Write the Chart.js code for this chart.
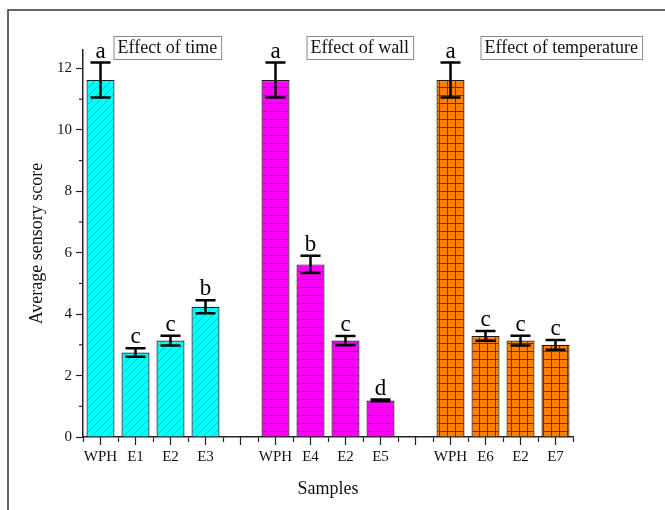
<!DOCTYPE html>
<html>
<head>
<meta charset="utf-8">
<script src="https://cdn.jsdelivr.net/npm/chart.js@4.4.0/dist/chart.umd.min.js"></script>
<style>
  html, body { margin: 0; padding: 0; background: #fff; }
  #wrap { width: 665px; height: 510px; }
</style>
</head>
<body>
<div id="wrap"><canvas id="grafico" width="665" height="510"></canvas></div>
<script>
// Datos
const etiquetas = ['WPH', 'E1', 'E2', 'E3', '', 'WPH', 'E4', 'E2', 'E5', '', 'WPH', 'E6', 'E2', 'E7'];
const medias = [11.62, 2.75, 3.14, 4.24, null, 11.62, 5.62, 3.14, 1.19, null, 11.62, 3.29, 3.14, 3.00];
const errores = [0.57, 0.14, 0.16, 0.21, null, 0.57, 0.28, 0.15, 0.03, null, 0.57, 0.16, 0.16, 0.16];
const letras = ['a', 'c', 'c', 'b', '', 'a', 'b', 'c', 'd', '', 'a', 'c', 'c', 'c'];
const grupos = ['Effect of time', 'Effect of wall', 'Effect of temperature'];
const inicioGrupo = [0, 5, 10];   // índice de la primera barra de cada grupo
const ticksY = [0, 2, 4, 6, 8, 10, 12];

const FUENTE = '"Liberation Serif", "DejaVu Serif", serif';

// Función para crear los rellenos con trama
function crearTrama(tipo, fondo, linea) {
    const c = document.createElement('canvas');
    c.width = 8; c.height = 8;
    const g = c.getContext('2d');
    g.fillStyle = fondo;
    g.fillRect(0, 0, 8, 8);
    g.strokeStyle = linea;
    g.lineWidth = 1;
    g.beginPath();
    if (tipo === 'diagonal') {
        g.lineWidth = 0.8;
        g.moveTo(-1, 9); g.lineTo(9, -1);
        g.moveTo(-1, 1); g.lineTo(1, -1);
        g.moveTo(7, 9); g.lineTo(9, 7);
    } else if (tipo === 'horizontal') {
        g.moveTo(0, 7.5); g.lineTo(8, 7.5);
    } else {
        g.moveTo(0, 7.5); g.lineTo(8, 7.5);
        g.moveTo(7.5, 0); g.lineTo(7.5, 8);
    }
    g.stroke();
    return g.createPattern(c, 'repeat');
}

const tramaCian = crearTrama('diagonal', '#00ffff', '#4a9aa6');
const tramaMagenta = crearTrama('horizontal', '#ff00ff', '#80307f');
const tramaNaranja = crearTrama('grid', '#ff8000', '#6a3414');
const rellenos = etiquetas.map((_, i) => i < 5 ? tramaCian : (i < 10 ? tramaMagenta : tramaNaranja));

// Plugin: marco, barras de error, letras, cajas y marcas menores
const extras = {
    id: 'extras',
    beforeDraw(chart) {
        const ctx = chart.ctx;
        ctx.save();
        ctx.strokeStyle = '#333';
        ctx.lineWidth = 1.5;
        ctx.beginPath();
        ctx.moveTo(8, 510);
        ctx.lineTo(8, 10);
        ctx.lineTo(665, 10);
        ctx.stroke();
        ctx.restore();
    },
    afterDatasetsDraw(chart) {
        const ctx = chart.ctx;
        const x = chart.scales.x, y = chart.scales.y;
        const meta = chart.getDatasetMeta(0);
        ctx.save();
        ctx.strokeStyle = '#000';
        ctx.lineWidth = 2.5;
        ctx.fillStyle = '#000';
        ctx.font = '23px ' + FUENTE;
        ctx.textAlign = 'center';
        ctx.textBaseline = 'alphabetic';
        medias.forEach((v, i) => {
            if (v === null) return;
            const cx = meta.data[i].x;
            const arriba = y.getPixelForValue(v + errores[i]);
            const abajo = y.getPixelForValue(v - errores[i]);
            ctx.beginPath();
            ctx.moveTo(cx, arriba); ctx.lineTo(cx, abajo);
            ctx.moveTo(cx - 10, arriba); ctx.lineTo(cx + 10, arriba);
            ctx.moveTo(cx - 10, abajo); ctx.lineTo(cx + 10, abajo);
            ctx.stroke();
            ctx.fillText(letras[i], cx, arriba - 5);
        });

        // Marcas largas en el centro de cada categoría
        ctx.lineWidth = 1.2;
        ctx.strokeStyle = '#222';
        etiquetas.forEach((_, i) => {
            const cx = x.getPixelForValue(i);
            ctx.beginPath();
            ctx.moveTo(cx, y.bottom);
            ctx.lineTo(cx, y.bottom + 8);
            ctx.stroke();
        });
        // Marcas menores del eje y
        for (let v = 1; v < 13; v += 2) {
            const py = y.getPixelForValue(v);
            ctx.beginPath();
            ctx.moveTo(x.left - 4, py);
            ctx.lineTo(x.left, py);
            ctx.stroke();
        }

        // Cajas con el nombre de cada grupo
        const desplaz = [13, 31, 30];
        ctx.font = '18px ' + FUENTE;
        ctx.textAlign = 'left';
        ctx.textBaseline = 'middle';
        grupos.forEach((t, k) => {
            const bx = x.getPixelForValue(inicioGrupo[k]) + desplaz[k];
            const w = ctx.measureText(t).width + 8;
            ctx.fillStyle = '#fff';
            ctx.fillRect(bx, 36, w, 23);
            ctx.strokeStyle = '#8a8a8a';
            ctx.lineWidth = 1;
            ctx.strokeRect(bx + 0.5, 36.5, w, 23);
            ctx.fillStyle = '#111';
            ctx.fillText(t, bx + 4, 48);
        });
        ctx.restore();
    }
};

new Chart(document.getElementById('grafico'), {
    type: 'bar',
    data: {
        labels: etiquetas,
        datasets: [{
            data: medias,
            backgroundColor: rellenos,
            borderColor: '#1a1a1a',
            borderWidth: 1.2,
            barPercentage: 0.8,
            categoryPercentage: 1.0
        }]
    },
    options: {
        responsive: false,
        animation: false,
        layout: { padding: { top: 50, right: 92, left: 0, bottom: 0 } },
        plugins: { legend: { display: false }, tooltip: { enabled: false } },
        scales: {
            x: {
                offset: true,
                grid: { offset: true, drawOnChartArea: false, tickLength: 5, tickColor: '#222', tickWidth: 1.2 },
                border: { color: '#222', width: 1.5 },
                ticks: { color: '#111', font: { family: FUENTE, size: 15 }, padding: 6, maxRotation: 0, autoSkip: false },
                title: { display: true, text: 'Samples', color: '#111', font: { family: FUENTE, size: 18 }, padding: { top: 14, bottom: 10 } },
                afterFit(s) { s.height = 73; }
            },
            y: {
                min: 0,
                max: 12.6,
                afterBuildTicks(s) { s.ticks = ticksY.map(v => ({ value: v })); },
                grid: { drawOnChartArea: false, tickLength: 7, tickColor: '#222', tickWidth: 1.2 },
                border: { color: '#222', width: 1.5 },
                ticks: { color: '#111', font: { family: FUENTE, size: 15 }, padding: 4 },
                title: { display: true, text: 'Average sensory score', color: '#111', font: { family: FUENTE, size: 18 }, padding: { top: 26, bottom: 6 } },
                afterFit(s) { s.width = 83; }
            }
        }
    },
    plugins: [extras]
});
</script>
</body>
</html>
